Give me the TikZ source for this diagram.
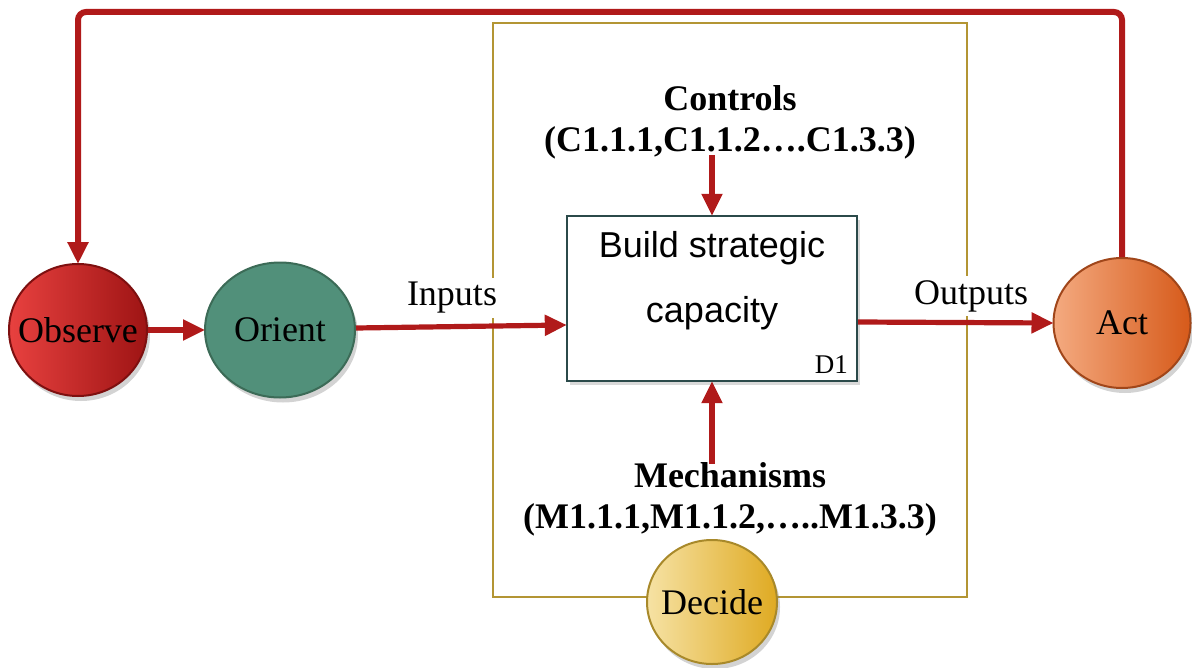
\documentclass[tikz,border=0pt]{standalone}
\usepackage{fontspec}
\setmainfont{Liberation Serif}
\newfontfamily\sansf{Liberation Sans}
\usetikzlibrary{arrows.meta,shapes.geometric,shadows,calc}
\definecolor{arrred}{HTML}{B01A1A}
\definecolor{framegold}{HTML}{B39534}
\definecolor{boxedge}{HTML}{2B4A4A}
\definecolor{obsL}{HTML}{E8413F}
\definecolor{obsR}{HTML}{9E1414}
\definecolor{obsE}{HTML}{7E1010}
\definecolor{oriF}{HTML}{51907A}
\definecolor{oriE}{HTML}{3C6B57}
\definecolor{actL}{HTML}{F4AA80}
\definecolor{actR}{HTML}{D65A1A}
\definecolor{actE}{HTML}{A0461A}
\definecolor{decL}{HTML}{F6E2A4}
\definecolor{decR}{HTML}{DFAA22}
\definecolor{decE}{HTML}{A8892A}
\tikzset{
  phase/.style={ellipse, draw, line width=1pt, inner sep=0pt,
    label={[font=\fontsize{18}{20}\selectfont, inner sep=0pt]center:#1},
    drop shadow={opacity=0.35, shadow xshift=1.5pt, shadow yshift=-2.5pt}},
  arr/.style={draw=arrred, line width=2.6pt, -{Triangle[length=11pt,width=10pt]}, shorten >=-0.5pt},
  lbl/.style={font=\fontsize{18}{20}\selectfont, fill=white, inner sep=2pt},
  bold/.style={font=\fontsize{18}{20.5}\selectfont\bfseries, align=center, inner sep=0pt},
}
\begin{document}
\begin{tikzpicture}[x=0.5pt,y=-0.5pt]
\useasboundingbox (0,0) rectangle (1192,668);
% frame
\draw[framegold, line width=1.3pt] (493,23) rectangle (967,597);
% box
\node[draw=boxedge, line width=1.2pt, fill=white, minimum width=145pt, minimum height=82.5pt,
      drop shadow={opacity=0.3, shadow xshift=1.5pt, shadow yshift=-2pt}] (box) at (712,298.5) {};
\node[font=\sansf\fontsize{18}{32.5}\selectfont, align=center] (boxtxt) at (712,281) {Build strategic\\capacity};
\node[font=\fontsize{13.5}{15}\selectfont, anchor=south east, inner sep=0pt] (d1) at ($(box.south east)+(-10,-8)$) {D1};
% labels
\node[bold] (ctrl) at (730,122) {Controls\\(C1.1.1,C1.1.2….C1.3.3)};
\node[bold] (mech) at (730,499) {Mechanisms\\(M1.1.1,M1.1.2,…..M1.3.3)};
\node[lbl] (inp) at (452,298) {Inputs};
\node[lbl] (outp) at (971,296) {Outputs};
% phases
\node[phase=Observe, draw=obsE, left color=obsL, right color=obsR, minimum width=69pt, minimum height=66pt] (observe) at (78,330) {};
\node[phase=Orient, draw=oriE, fill=oriF, minimum width=75pt, minimum height=67.5pt] (orient) at (280,330) {};
\node[phase=Act, draw=actE, left color=actL, right color=actR, minimum width=68.5pt, minimum height=65pt] (act) at (1122,323) {};
\node[phase=Decide, draw=decE, left color=decL, right color=decR, minimum width=65pt, minimum height=62pt] (decide) at (712,602) {};
% connectors
\coordinate (top) at (600,12);
\draw[arr] (observe.east) -- (orient.west);
\draw[arr] ([yshift=1pt]orient.east) -- ([yshift=-13.25pt]box.west);
\draw[arr] ([yshift=-11.75pt]box.east) -- (act.west);
\draw[arr] ([yshift=2pt]ctrl.south -| box.north) -- (box.north);
\draw[arr] ([yshift=-1pt]mech.north -| box.south) -- (box.south);
\draw[arr, line width=3pt, rounded corners=4pt] (act.north) -- (act.north |- top) -- (observe.north |- top) -- (observe.north);
\end{tikzpicture}
\end{document}
